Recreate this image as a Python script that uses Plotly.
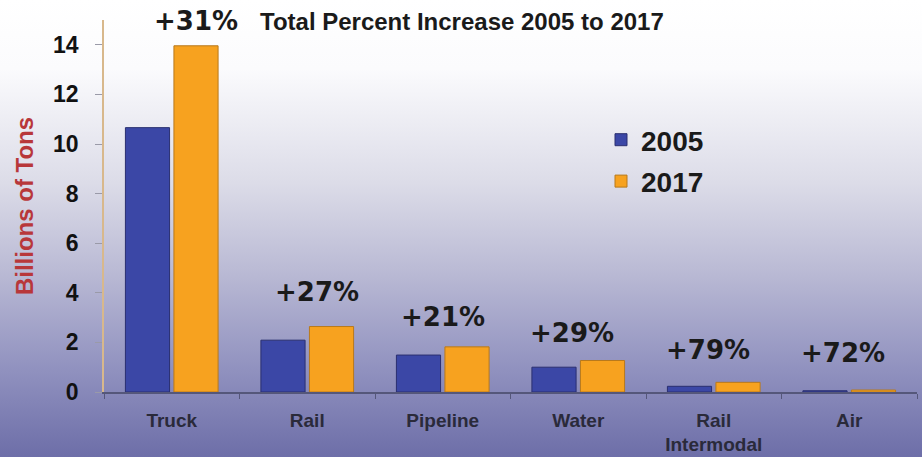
import base64
import plotly.graph_objects as go

categories = ["Truck", "Rail", "Pipeline", "Water", "Rail<br>Intermodal", "Air"]
tons_2005 = [10.66, 2.09, 1.49, 1.00, 0.23, 0.05]
tons_2017 = [13.96, 2.64, 1.82, 1.27, 0.39, 0.08]
pct_labels = ["+31%", "+27%", "+21%", "+29%", "+79%", "+72%"]
y_ticks = [0, 2, 4, 6, 8, 10, 12, 14]

W, H = 922, 457
ML, MR, MT, MB = 104, 5, 20, 65
PW, PH = W - ML - MR, H - MT - MB
label_yshift = [8, 18, 13, 11, 15, 20]
label_xshift = [24, 10, 0, -6, -6, -6]

svg = f'''<svg xmlns="http://www.w3.org/2000/svg" width="{W}" height="{H}" preserveAspectRatio="none">
<defs><linearGradient id="g" x1="0" y1="0" x2="0" y2="1">
<stop offset="0" stop-color="#ffffff"/>
<stop offset="0.15" stop-color="#fbfbfd"/>
<stop offset="0.4" stop-color="#dcdce8"/>
<stop offset="0.6" stop-color="#b9b9d4"/>
<stop offset="0.8" stop-color="#9293c0"/>
<stop offset="1" stop-color="#6d6ea8"/>
</linearGradient></defs>
<rect x="0" y="0" width="{W}" height="{H}" fill="url(#g)"/></svg>'''
bg_uri = "data:image/svg+xml;base64," + base64.b64encode(svg.encode()).decode()

fig = go.Figure()
fig.add_trace(go.Bar(x=categories, y=tons_2005, name="2005", legendgroup="a",
                     marker=dict(color="#3b47a6", line=dict(color="#2a2f70", width=1))))
fig.add_trace(go.Bar(x=categories, y=tons_2017, name="2017", legendgroup="b",
                     marker=dict(color="#f7a21f", line=dict(color="#b8791c", width=1))))

for i, (c, lab) in enumerate(zip(categories, pct_labels)):
    top = max(tons_2005[i], tons_2017[i])
    fig.add_annotation(x=c, y=top, text=lab, showarrow=False,
                       yanchor="bottom", yshift=label_yshift[i], xshift=label_xshift[i],
                       font=dict(family="DejaVu Sans", size=26, color="#1a1a1a", weight="bold"))

fig.add_annotation(xref="paper", yref="paper", x=(258 - ML) / PW, y=1 + (MT - 21) / PH,
                   xanchor="left", yanchor="middle", showarrow=False,
                   text="Total Percent Increase 2005 to 2017",
                   font=dict(family="Liberation Sans", size=24, color="#1a1a1a", weight="bold"))

fig.add_layout_image(dict(source=bg_uri, xref="paper", yref="paper",
                          x=-ML / PW, y=1 + MT / PH, sizex=W / PW, sizey=H / PH,
                          sizing="stretch", layer="below", xanchor="left", yanchor="top"))

fig.update_layout(
    width=W, height=H,
    margin=dict(l=ML, r=MR, t=MT, b=MB),
    paper_bgcolor="rgba(0,0,0,0)", plot_bgcolor="rgba(0,0,0,0)",
    barmode="group", bargap=0.284, bargroupgap=0.09,
    legend=dict(x=(601 - ML) / PW, y=(H - MB - 115) / PH, xanchor="left", yanchor="top",
                bgcolor="rgba(0,0,0,0)", tracegroupgap=2,
                font=dict(family="Liberation Sans", size=28, color="#1a1a1a", weight="bold"),
                itemwidth=30),
    showlegend=True,
    xaxis=dict(type="category", showline=True, linecolor="#55577a", linewidth=1.5,
               ticks="outside", tickson="boundaries", ticklen=5, tickcolor="#55577a",
               ticklabelstandoff=10, automargin=False,
               tickfont=dict(family="Liberation Sans", size=19, color="#2a2a3a", weight="bold"),
               showgrid=False),
    yaxis=dict(range=[0, 15], tickvals=y_ticks, showline=True, linecolor="#d8b88c",
               linewidth=1.5, ticks="outside", ticklen=7, tickcolor="#9a9aa8",
               ticklabelstandoff=12, showgrid=False, zeroline=False, automargin=False,
               tickfont=dict(family="Liberation Sans", size=23, color="#111111", weight="bold"),
               title=dict(text="Billions of Tons", standoff=13,
                          font=dict(family="Liberation Sans", size=24, color="#b8373a",
                                    weight="bold"))),
)

fig.write_html("out.html")
